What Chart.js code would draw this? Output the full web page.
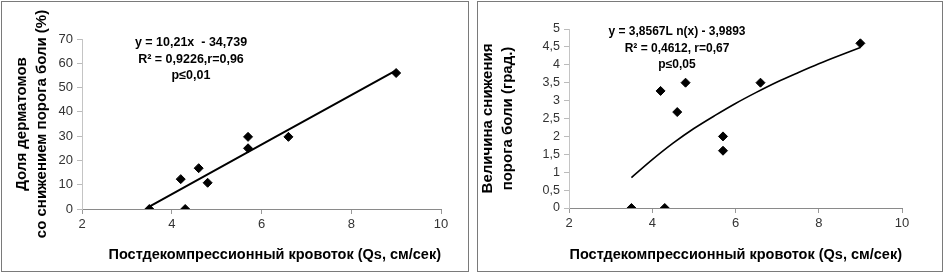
<!DOCTYPE html>
<html>
<head>
<meta charset="utf-8">
<script src="https://cdn.jsdelivr.net/npm/chart.js@4/dist/chart.umd.min.js"></script>
<style>
  body { margin: 0; background: #fff; width: 945px; height: 275px; overflow: hidden; }
  .panel { position: absolute; top: 1px; height: 269px; border: 1px solid #7a7a7a; background: #fff; }
  #p1 { left: 1px; width: 466px; }
  #p2 { left: 477px; width: 464px; }
  canvas { display: block; }
</style>
</head>
<body>
<div class="panel" id="p1"><canvas id="c1" width="466" height="269"></canvas></div>
<div class="panel" id="p2"><canvas id="c2" width="464" height="269"></canvas></div>
<script>
const FONT = "'Liberation Sans', Arial, sans-serif";

// left chart: share of dermatomes with lowered pain threshold
const qsLeft = [3.5, 4.3, 4.2, 4.6, 4.8, 5.7, 5.7, 6.6, 9.0];
const dermatomes = [0, 0, 12.3, 16.8, 10.8, 29.7, 25, 29.7, 56];
const trendLeftX = [3.5, 9.0];
const trendLeftY = [1.0, 57.1];
const leftYTitle = ['Доля дерматомов', 'со снижением порога боли (%)'];
const leftNotes = ['y = 10,21x  - 34,739', 'R² = 0,9226,r=0,96', 'p≤0,01'];

// right chart: magnitude of pain threshold decrease
const qsRight = [3.5, 4.3, 4.2, 4.6, 4.8, 5.7, 5.7, 6.6, 9.0];
const painDrop = [0, 0, 3.27, 2.68, 3.5, 2.0, 1.6, 3.5, 4.6];
const trendRightX = [3.5, 4, 4.5, 5, 5.5, 6, 6.5, 7, 7.5, 8, 8.5, 9];
const trendRightY = [0.85, 1.35, 1.81, 2.22, 2.58, 2.92, 3.23, 3.52, 3.78, 4.03, 4.26, 4.48];
const rightYTitle = ['Величина снижения', 'порога боли (град.)'];
const rightNotes = ['y = 3,8567L n(x) - 3,9893', 'R² = 0,4612, r=0,67', 'p≤0,05'];

const xTitle = 'Постдекомпрессионный кровоток (Qs, см/сек)';

const toPoints = (xs, ys) => xs.map((x, i) => ({ x: x, y: ys[i] }));

const notesPlugin = (lines, cx, y0, size) => ({
    id: 'notes',
    afterDraw(chart) {
        const ctx = chart.ctx;
        ctx.save();
        ctx.font = 'bold ' + size + 'px ' + FONT;
        ctx.fillStyle = '#000';
        ctx.textAlign = 'center';
        ctx.textBaseline = 'middle';
        lines.forEach((t, i) => ctx.fillText(t, cx, y0 + i * 16.5));
        ctx.restore();
    }
});

const createScatter = (canvasId, opts) => {
    const ctx = document.getElementById(canvasId);
    if (!ctx) return null;
    return new Chart(ctx, {
        type: 'scatter',
        data: {
            datasets: [
                {
                    data: toPoints(opts.trendX, opts.trendY),
                    showLine: true,
                    borderColor: '#000',
                    borderWidth: opts.lineWidth,
                    pointRadius: 0,
                    tension: 0.3,
                    order: 2
                },
                {
                    data: toPoints(opts.xs, opts.ys),
                    pointStyle: 'rectRot',
                    pointRadius: 4.5,
                    backgroundColor: '#000',
                    borderColor: '#000',
                    borderWidth: 1,
                    order: 1
                }
            ]
        },
        options: {
            responsive: false,
            animation: false,
            layout: { padding: { left: 0, top: opts.padTop, right: opts.padRight, bottom: 0 } },
            plugins: { legend: { display: false }, tooltip: { enabled: false } },
            scales: {
                x: {
                    type: 'linear',
                    min: 2, max: 10,
                    afterFit: s => { s.height = opts.xHeight; },
                    ticks: { stepSize: 2, color: '#333', font: { family: FONT, size: 13 }, padding: 3 },
                    grid: { drawOnChartArea: false, drawTicks: true, tickLength: 5, color: '#999' },
                    border: { display: true, color: '#8a8a8a', width: 1 },
                    title: {
                        display: true, text: xTitle, align: 'end', color: '#000',
                        font: { family: FONT, size: 14.5, weight: 'bold', lineHeight: '16px' },
                        padding: { top: 0, bottom: 8 }
                    }
                },
                y: {
                    min: 0, max: opts.yMax,
                    afterFit: s => { s.width = opts.yWidth; },
                    ticks: {
                        stepSize: opts.yStep, autoSkip: false, color: '#333',
                        font: { family: FONT, size: opts.yTickSize }, padding: 4,
                        callback: v => String(v).replace('.', ',')
                    },
                    grid: { drawOnChartArea: false, drawTicks: true, tickLength: 5, color: '#bbb' },
                    border: { display: true, color: '#c4c4c4', width: 1 },
                    title: {
                        display: true, text: opts.yTitle, color: '#000',
                        font: { family: FONT, size: 15, weight: 'bold', lineHeight: '20px' },
                        padding: { top: opts.yTitlePad, bottom: 0 }
                    }
                }
            }
        },
        plugins: [notesPlugin(opts.notes, opts.noteX, opts.noteY, opts.noteSize)]
    });
};

createScatter('c1', {
    xs: qsLeft, ys: dermatomes,
    trendX: trendLeftX, trendY: trendLeftY, lineWidth: 2,
    yMax: 70, yStep: 10, yTickSize: 13, yTitle: leftYTitle, yTitlePad: 10,
    yWidth: 80, xHeight: 62, padTop: 37, padRight: 27,
    notes: leftNotes, noteX: 189, noteY: 41, noteSize: 12.5
});

createScatter('c2', {
    xs: qsRight, ys: painDrop,
    trendX: trendRightX, trendY: trendRightY, lineWidth: 1.6,
    yMax: 5, yStep: 0.5, yTickSize: 12.5, yTitle: rightYTitle, yTitlePad: 0,
    yWidth: 91, xHeight: 63, padTop: 27, padRight: 40,
    notes: rightNotes, noteX: 199, noteY: 30, noteSize: 12
});
</script>
</body>
</html>
